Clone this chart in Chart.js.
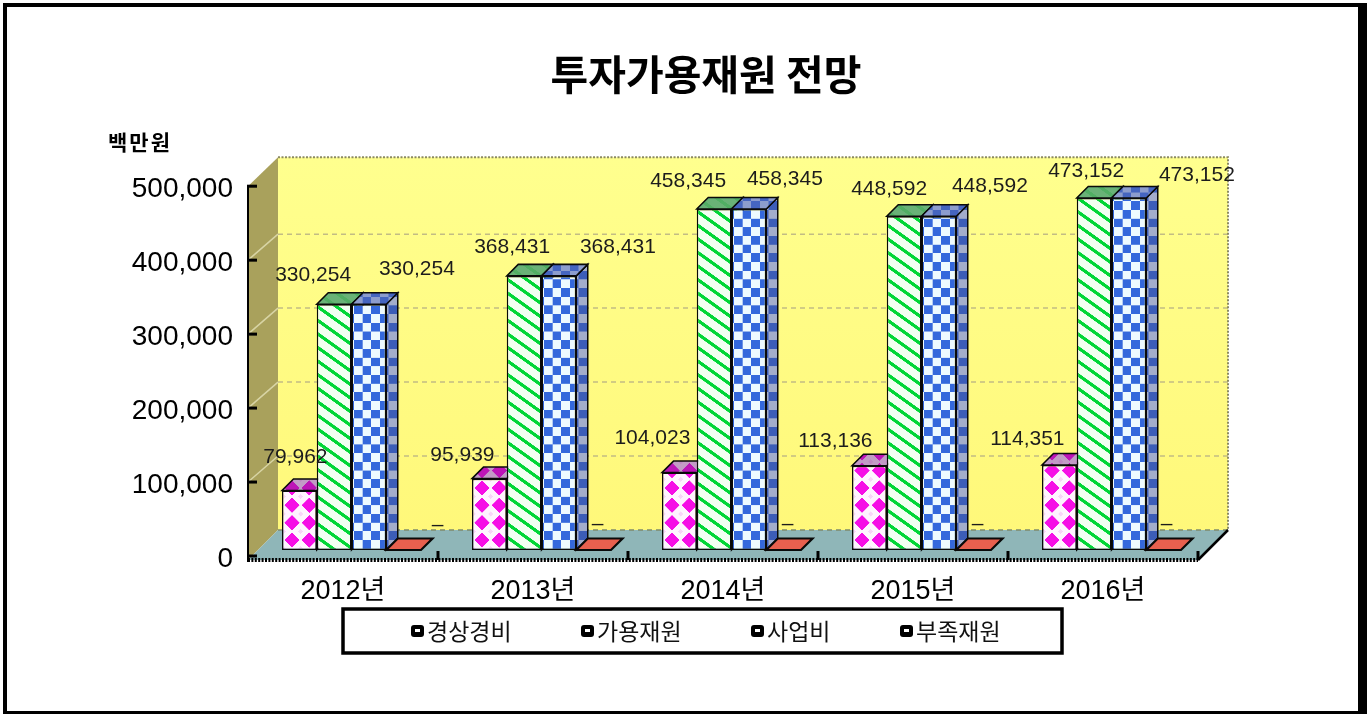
<!DOCTYPE html>
<html lang="ko">
<head>
<meta charset="utf-8">
<title>투자가용재원 전망</title>
<script src="https://cdn.jsdelivr.net/npm/chart.js@4"></script>
<style>html,body{margin:0;padding:0;background:#fff}canvas{display:block}</style>
</head>
<body>
<canvas id="c" width="1371" height="714"></canvas>
<script>
const categories = ['2012년', '2013년', '2014년', '2015년', '2016년'];
const seriesNames = ['경상경비', '가용재원', '사업비', '부족재원'];
const currentCosts = [79962, 95939, 104023, 113136, 114351];
const availableFunds = [330254, 368431, 458345, 448592, 473152];
const projectCosts = [330254, 368431, 458345, 448592, 473152];
const fundShortfall = [0, 0, 0, 0, 0];
const chartTitle = '투자가용재원 전망';
const unitLabel = '백만원';

/* layout and styling */
const LATIN = '"Liberation Sans","Noto Sans CJK KR",sans-serif';
const KR = '"Noto Sans CJK KR","Liberation Sans",sans-serif';
const FRONT = {dx: 8.5, dy: -6, sy: 1.006};   // bar plane relative to the axis plane
const BAR_DEPTH = 11.5;
const WALL = {dx: 30, dy: -26};               // back wall relative to the axis plane
// manual data label nudges, per series and category, from each bar's front top centre
const labelNudges = [
  [[-4,-33],[-27,-23],[-27,-34],[-34,-25],[-32,-26]],
  [[-21,-29],[-12,-29],[-26,-28],[-15,-27],[-8,-27]],
  [[48,-35],[59,-29],[36,-30],[51,-30],[68,-23]],
  [[34,-25],[4,-26],[4,-26],[4,-26],[3,-26]]
];

function tile(w, h, paint, tx, ty) {
  const s = 4, cv = document.createElement('canvas');
  cv.width = Math.round(w * s); cv.height = Math.round(h * s);
  const g = cv.getContext('2d');
  g.scale(cv.width / w, cv.height / h);
  paint(g, w, h);
  const p = g.createPattern(cv, 'repeat');
  p.setTransform(new DOMMatrix().translate(tx, ty).scale(w / cv.width, h / cv.height));
  return p;
}
const T = 190 / 11;
const pinkPattern = tile(T, T, (g, w, h) => {
  g.fillStyle = '#fff4ff'; g.fillRect(0, 0, w, h);
  g.fillStyle = '#f8d6f8';
  for (const c of [[0,0],[w,0],[0,h],[w,h]]) {
    g.beginPath(); g.moveTo(c[0], c[1]-2.5); g.lineTo(c[0]+2.5, c[1]); g.lineTo(c[0], c[1]+2.5); g.lineTo(c[0]-2.5, c[1]); g.fill();
  }
  g.fillStyle = '#f60ee6';
  g.beginPath(); g.moveTo(w/2, h/2-7.6); g.lineTo(w/2+7.6, h/2); g.lineTo(w/2, h/2+7.6); g.lineTo(w/2-7.6, h/2); g.fill();
}, -1.5, 2);
const greenPattern = tile(19, 13.5, (g, w, h) => {
  g.fillStyle = '#f2fff2'; g.fillRect(0, 0, w, h);
  g.fillStyle = '#00d636';
  for (const o of [-h, 0, h]) {
    g.beginPath(); g.moveTo(0, o-2); g.lineTo(w, o+h-2); g.lineTo(w, o+h+2); g.lineTo(0, o+2); g.fill();
  }
}, 0, 0);
const bluePattern = tile(T, T, (g, w, h) => {
  g.fillStyle = '#eefaff'; g.fillRect(0, 0, w, h);
  g.fillStyle = '#3468dc';
  g.fillRect(0, 0, w/2, h/2); g.fillRect(w/2, h/2, w/2, h/2);
}, 0, 2);
const redFill = '#e8604f';
const patterns = [pinkPattern, greenPattern, bluePattern, redFill];
const topShade = ['rgba(110,30,120,.42)', 'rgba(90,170,105,.9)', 'rgba(80,100,175,.62)', 'rgba(0,0,0,0)'];
const sideShade = ['rgba(60,0,60,.4)', 'rgba(0,60,0,.4)', 'rgba(70,80,140,.45)', 'rgba(0,0,0,.3)'];

function poly(ctx, pts) {
  ctx.beginPath();
  pts.forEach((p, i) => i ? ctx.lineTo(p[0], p[1]) : ctx.moveTo(p[0], p[1]));
  ctx.closePath();
}
function enterBarPlane(chart) {
  const {ctx} = chart, y0 = chart.scales.y.getPixelForValue(0);
  ctx.save();
  ctx.translate(FRONT.dx, y0 + FRONT.dy);
  ctx.scale(1, FRONT.sy);
  ctx.translate(0, -y0);
}

const scene = {
  id: 'scene',
  afterLayout(chart) {
    // centre the title on the page-level plot block rather than on the whole left margin
    chart.titleBlock.left = 214;
  },
  beforeDraw(chart) {
    const {ctx, chartArea: a, scales: {y}} = chart;
    const x0 = a.left, x1 = a.right, yb = y.getPixelForValue(0) + 4;
    const bx = WALL.dx, by = yb - 30, yt = y.getPixelForValue(500000) + WALL.dy - 3;
    ctx.save();
    ctx.fillStyle = '#fff'; ctx.fillRect(0, 0, chart.width, chart.height);
    // page frame
    ctx.fillStyle = '#000';
    ctx.fillRect(3, 3, 1364, 4); ctx.fillRect(3, 3, 4, 711); ctx.fillRect(3, 711, 1364, 3); ctx.fillRect(1358, 3, 9, 711);
    // back wall
    const wg = ctx.createLinearGradient(0, yt, 0, by);
    wg.addColorStop(0, '#ffff8e'); wg.addColorStop(1, '#fff87a');
    ctx.fillStyle = wg;
    ctx.fillRect(x0 + bx, yt, x1 - x0, by - yt);
    // side wall
    ctx.fillStyle = '#a9a15c';
    poly(ctx, [[x0, y.getPixelForValue(500000)], [x0 + bx, yt], [x0 + bx, by], [x0, yb]]); ctx.fill();
    // floor
    ctx.fillStyle = '#8fb6b8';
    poly(ctx, [[x0, yb], [x0 + bx, by], [x1 + bx, by], [x1, yb]]); ctx.fill();
    // gridlines on wall and side wall
    y.ticks.forEach(t => {
      const py = y.getPixelForValue(t.value);
      if (t.value > 0 && t.value < 500000) {
        ctx.strokeStyle = 'rgba(255,255,225,.55)'; ctx.lineWidth = 1.5; ctx.setLineDash([]);
        ctx.beginPath(); ctx.moveTo(x0, py); ctx.lineTo(x0 + bx, py + WALL.dy); ctx.stroke();
      }
      if (t.value < 500000) {
        ctx.strokeStyle = t.value === 0 ? '#7f8a6c' : '#c2bc84'; ctx.lineWidth = 1.5; ctx.setLineDash([5, 4]);
        ctx.beginPath(); ctx.moveTo(x0 + bx, py + WALL.dy); ctx.lineTo(x1 + bx, py + WALL.dy); ctx.stroke();
      }
    });
    // dotted wall outline
    ctx.strokeStyle = '#8c8a62'; ctx.lineWidth = 2; ctx.setLineDash([2, 1.5]);
    ctx.beginPath(); ctx.moveTo(x0 + bx, yt); ctx.lineTo(x1 + bx, yt); ctx.lineTo(x1 + bx, by); ctx.stroke();
    ctx.setLineDash([]);
    // floor right edge
    ctx.strokeStyle = '#000'; ctx.lineWidth = 2.5;
    ctx.beginPath(); ctx.moveTo(x1, yb); ctx.lineTo(x1 + bx, by); ctx.stroke();
    // axis lines and ticks
    ctx.lineWidth = 2;
    ctx.beginPath(); ctx.moveTo(x0, y.getPixelForValue(500000)); ctx.lineTo(x0, yb + 2); ctx.stroke();
    ctx.lineWidth = 4; ctx.setLineDash([2, 1.4]);
    ctx.beginPath(); ctx.moveTo(x0, yb); ctx.lineTo(x1, yb); ctx.stroke();
    ctx.setLineDash([]);
    ctx.fillStyle = '#000';
    y.ticks.forEach(t => ctx.fillRect(x0 - 1, y.getPixelForValue(t.value) - 1.5, 10, 3));
    const step = (x1 - x0) / categories.length;
    for (let i = 1; i <= categories.length; i++) ctx.fillRect(x0 + i * step - 1.5, yb - 9, 3, 9);
    // unit label
    ctx.fillStyle = '#000'; ctx.font = 'bold 21px ' + KR; ctx.textAlign = 'left'; ctx.textBaseline = 'middle';
    ctx.letterSpacing = '2px';
    ctx.fillText(unitLabel, 108, 142);
    ctx.letterSpacing = '0px';
    // legend
    ctx.strokeStyle = '#000'; ctx.lineWidth = 3.5;
    ctx.strokeRect(343, 609, 719, 44);
    const legendX = [411, 581, 751, 900];
    seriesNames.forEach((name, i) => {
      ctx.fillStyle = '#000';
      ctx.beginPath(); ctx.roundRect(legendX[i], 625, 13, 12, 3); ctx.fill();
      ctx.fillStyle = '#fff'; ctx.fillRect(legendX[i] + 4, 629, 5, 3);
      ctx.fillStyle = '#111'; ctx.font = '23px ' + KR;
      ctx.fillText(name, legendX[i] + 16, 631);
    });
    ctx.restore();
  },
  beforeDatasetsDraw(chart) {
    // tops and sides go down first, left to right; the front faces then cover what they should
    const {ctx} = chart;
    enterBarPlane(chart);
    const d = BAR_DEPTH, dy = d / FRONT.sy;
    categories.forEach((_, j) => {
      chart.data.datasets.forEach((ds, i) => {
        const bar = chart.getDatasetMeta(i).data[j];
        const l = bar.x - bar.width / 2, r = bar.x + bar.width / 2, t = bar.y, b = bar.base;
        const top = [[l, t], [r, t], [r + d, t - dy], [l + d, t - dy]];
        const side = [[r, t], [r + d, t - dy], [r + d, b - dy], [r, b]];
        ctx.lineWidth = i === 3 ? 2.2 : 1.5; ctx.strokeStyle = '#0a0a0a';
        if (t < b) {
          poly(ctx, side); ctx.fillStyle = patterns[i]; ctx.fill();
          ctx.fillStyle = sideShade[i]; ctx.fill(); ctx.stroke();
        }
        poly(ctx, top); ctx.fillStyle = patterns[i]; ctx.fill();
        ctx.fillStyle = topShade[i]; ctx.fill(); ctx.stroke();
      });
    });
    ctx.restore();
  },
  beforeDatasetDraw(chart) { enterBarPlane(chart); },
  afterDatasetDraw(chart) { chart.ctx.restore(); },
  afterDatasetsDraw(chart) {
    const {ctx} = chart, y0 = chart.scales.y.getPixelForValue(0);
    ctx.save();
    ctx.fillStyle = '#1c1c1c'; ctx.font = '21px ' + LATIN;
    ctx.textAlign = 'center'; ctx.textBaseline = 'middle';
    chart.data.datasets.forEach((ds, i) => {
      chart.getDatasetMeta(i).data.forEach((bar, j) => {
        const n = labelNudges[i][j];
        const px = bar.x + FRONT.dx + n[0];
        const py = y0 + FRONT.dy + (bar.y - y0) * FRONT.sy + n[1];
        const v = ds.data[j];
        ctx.fillText(v === 0 ? '–' : v.toLocaleString('en-US'), px, py);
      });
    });
    ctx.restore();
  }
};

const sources = [currentCosts, availableFunds, projectCosts, fundShortfall];
new Chart(document.getElementById('c'), {
  type: 'bar',
  data: {
    labels: categories,
    datasets: sources.map((values, i) => ({
      label: seriesNames[i],
      data: values,
      backgroundColor: patterns[i],
      borderColor: '#0a0a0a',
      borderWidth: 1.5,
      borderSkipped: false,
      clip: false,
      categoryPercentage: 0.7316,
      barPercentage: 1
    }))
  },
  options: {
    responsive: false,
    animation: false,
    events: [],
    layout: {padding: {left: 100, right: 173, top: 0, bottom: 106}},
    plugins: {
      legend: {display: false},
      tooltip: {enabled: false},
      title: {
        display: true, text: chartTitle, color: '#000',
        font: {family: KR, size: 41, weight: 'bold', lineHeight: 1.2},
        padding: {top: 50, bottom: 87}
      }
    },
    scales: {
      x: {
        afterFit(s) { s.height = 52; },
        grid: {display: false, drawTicks: false},
        border: {display: false},
        ticks: {color: '#000', font: {family: LATIN, size: 27}, padding: 19, maxRotation: 0}
      },
      y: {
        min: 0, max: 500000,
        afterFit(s) { s.width = 148; },
        grid: {display: false, drawTicks: false},
        border: {display: false},
        ticks: {
          stepSize: 100000, color: '#000', padding: 15, labelOffset: 3,
          font: {family: LATIN, size: 28},
          callback: v => v.toLocaleString('en-US')
        }
      }
    }
  },
  plugins: [scene]
});
</script>
</body>
</html>
